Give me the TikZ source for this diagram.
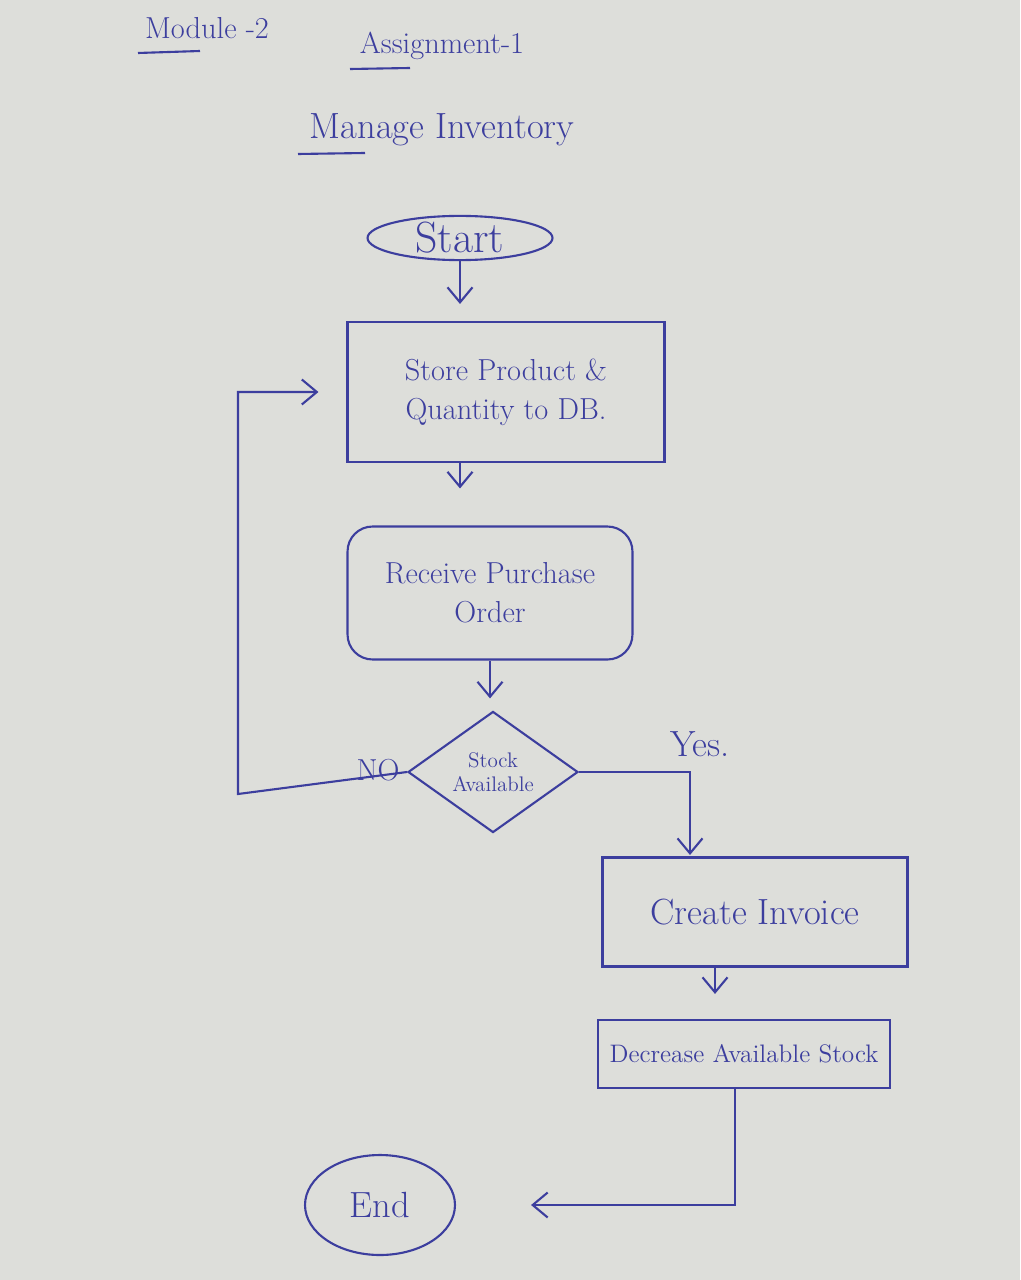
\documentclass[tikz,border=0pt]{standalone}
\usepackage{tikz}
\usetikzlibrary{arrows.meta}
\usetikzlibrary{positioning}
\usetikzlibrary{shapes.geometric}
\usetikzlibrary{calc}
\definecolor{ink}{RGB}{60,62,158}
\definecolor{paper}{RGB}{221,222,218}
\tikzstyle{stepbox}=[draw=ink,rectangle,text=ink,font=\LARGE,align=center,inner sep=2pt]
\tikzstyle{terminal}=[draw=ink,ellipse,text=ink,font=\huge,inner sep=0pt]
\tikzstyle{decision}=[draw=ink,diamond,text=ink,font=\large,align=center,inner sep=0pt,minimum width=3.4cm,minimum height=2.4cm]
\tikzstyle{flow}=[draw=ink,-{Straight Barb[length=3mm,width=5mm]}]
\tikzstyle{hand}=[text=ink,font=\LARGE]

\begin{document}
\begin{tikzpicture}[x=0.02cm,y=-0.02cm,very thick]
\fill[paper] (0,0) rectangle (1020,1280);
\node[hand] (module) at (207,28) {Module -2};
\node[hand] (assign) at (442,46) {Assignment-1};
\node[hand,font=\huge] (title) at (442,130) {Manage Inventory};
\draw[ink] (138,53) -- (200,51);
\draw[ink] (350,69) -- (410,68);
\draw[ink] (298,154) -- (365,153);

\node[terminal,font=\Huge,minimum width=3.7cm,minimum height=0.8cm] (start) at (460,238) {Start};
\node[stepbox,minimum width=6.34cm,minimum height=2.8cm] (store) at (506,392) {Store Product \&\\Quantity to DB.};
\node[stepbox,rounded corners=0.5cm,minimum width=5.7cm,minimum height=2.66cm] (receive) at (490,593) {Receive Purchase\\Order};
\node[decision] (stock) at (493,772) {Stock\\Available};
\node[stepbox,font=\huge,minimum width=6.1cm,minimum height=2.18cm] (invoice) at (755,912) {Create Invoice};
\node[stepbox,font=\Large,minimum width=5.84cm,minimum height=1.36cm] (decrease) at (744,1054) {Decrease Available Stock};
\node[terminal,minimum width=3cm,minimum height=2cm] (end) at (380,1205) {End};

\coordinate (noturn) at (238,794);
\coordinate (yesdown) at (690,855);

\draw[flow,shorten >=0.34cm] (start.south) -- (start.south |- store.north);
\draw[flow,shorten >=0.74cm] (start.south |- store.south) -- (start.south |- receive.north);
\draw[flow,shorten >=0.24cm] (receive.south) -- (receive.south |- stock.north);
\draw[flow] (stock.east) -| (yesdown);
\draw[flow,shorten >=0.56cm] (stock.west) -- (noturn) |- (store.west);
\draw[flow,shorten >=0.5cm] ([xshift=-0.8cm]invoice.south) -- ([xshift=-0.8cm]invoice.south |- decrease.north);
\draw[flow,shorten >=1.5cm] ([xshift=-0.18cm]decrease.south) |- (end.east);

\node[hand,font=\huge] (yes) at (700,744) {Yes.};
\node[hand] (no) at (378,770) {NO};
\end{tikzpicture}
\end{document}
